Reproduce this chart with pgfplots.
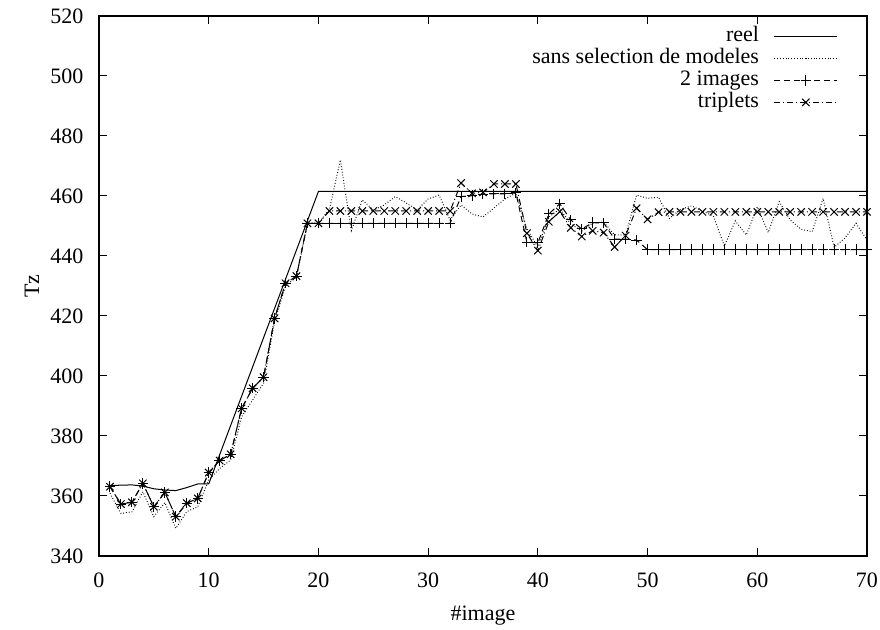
\documentclass[border=0pt]{standalone}
\usepackage{fontspec}
\setmainfont{Liberation Serif}
\usepackage{pgfplots}
\pgfplotsset{compat=1.18}
\begin{document}
\fontsize{11}{13}\selectfont
\begin{tikzpicture}
\useasboundingbox (-49.5pt,-37pt) rectangle (390.5pt,278pt);
\begin{axis}[
  at={(0,0)}, anchor=south west,
  scale only axis, width=384pt, height=270pt,
  xmin=0, xmax=70, ymin=340, ymax=520,
  xtick={0,10,...,70}, ytick={340,360,...,520},
  tick align=inside, major tick length=4pt,
  /pgf/number format/assume math mode=true,
  /pgf/number format/set thousands separator={},
  tick label style={font=\fontsize{11}{13}\selectfont},
  yticklabel style={xshift=-4pt},
  xticklabel style={anchor=base, yshift=-15.6pt},
  xlabel={\#image}, ylabel={Tz},
  xlabel style={at={(axis description cs:0.5,0)}, anchor=base, yshift=-32.5pt, font=\fontsize{11}{13}\selectfont},
  ylabel style={at={(axis description cs:0,0.5)}, anchor=center, yshift=33.5pt, font=\fontsize{11}{13}\selectfont},
  axis line style={line width=0.6pt},
  every tick/.style={black, line width=0.5pt},
  legend style={draw=none, fill=none, at={(rel axis cs:1,1)}, anchor=north east, xshift=-11.5pt, yshift=-2.5pt,
    font=\fontsize{11}{13}\selectfont, nodes={inner sep=0.5pt, text height=7.6pt, text depth=2.4pt}, column sep=7pt},
  legend cell align=right,
  legend plot pos=right,
  legend image code/.code={\draw[mark repeat=2,mark phase=2,#1] plot coordinates {(0cm,0cm) (0.55cm,0cm) (1.1cm,0cm)};},
]
% reel
\addplot[black, line width=0.5pt, mark=none] coordinates {
(1,363.5) (2,363.6) (3,363.7) (4,363.3) (5,362.4) (6,362) (7,361.8) (8,362.8) (9,364) (10,364)
(20,461.5) (70,461.5)};
\addlegendentry{reel}
% sans selection de modeles
\addplot[black, line width=0.5pt, mark=none, dash pattern=on 0.4pt off 1pt] coordinates {
(1,360.9) (2,354.2) (3,354.7) (4,361.4) (5,353.1) (6,357.8) (7,349.2) (8,354.8) (9,356.4) (10,365.3)
(11,369.2) (12,372) (13,386.4) (14,392) (15,397.6) (16,418) (17,430) (18,433) (19,451) (20,451)
(21,455.5) (22,472) (23,448.5) (24,458.7) (25,455.3) (26,457) (27,459.8) (28,457.7) (29,455.3) (30,459)
(31,460.3) (32,452) (33,457) (34,454) (35,453) (36,456) (37,459) (38,461) (39,449) (40,443)
(41,453) (42,455.7) (43,450.7) (44,448.3) (45,451) (46,451.3) (47,447) (48,447) (49,460.3) (50,459.2)
(51,459.6) (52,452.5) (53,455.5) (54,456.7) (55,455) (56,453.3) (57,443.3) (58,451.7) (59,447) (60,456.4)
(61,447.8) (62,458.1) (63,452) (64,448.9) (65,448.1) (66,459.2) (67,442.9) (68,446) (69,450.9) (70,445.3)};
\addlegendentry{sans selection de modeles}
% 2 images
\addplot[black, line width=0.5pt, mark=+, mark size=2.6pt, mark options={solid}, dash pattern=on 3pt off 2pt] coordinates {
(1,363.1) (2,357.3) (3,357.9) (4,364.2) (5,356.4) (6,361.2) (7,353.1) (8,357.6) (9,359.2) (10,367.8)
(11,371.8) (12,373.9) (13,389.2) (14,395.9) (15,399.6) (16,419.2) (17,430.9) (18,433.3) (19,450.9) (20,450.9)
(21,450.9) (22,450.9) (23,450.9) (24,450.9) (25,450.9) (26,450.9) (27,450.9) (28,450.9) (29,450.9) (30,450.9)
(31,450.9) (32,450.9) (33,459.8) (34,460.1) (35,460.6) (36,460.7) (37,460.7) (38,461) (39,444.6) (40,444.4)
(41,454) (42,457.4) (43,452) (44,449) (45,451.1) (46,451) (47,445.6) (48,445.6) (49,445.3) (50,442.1)
(51,442.1) (52,442.1) (53,442.1) (54,442.1) (55,442.1) (56,442.1) (57,442.1) (58,442.1) (59,442.1) (60,442.1)
(61,442.1) (62,442.1) (63,442.1) (64,442.1) (65,442.1) (66,442.1) (67,442.1) (68,442.1) (69,442.1) (70,442.1)};
\addlegendentry{2 images}
% triplets
\addplot[black, line width=0.5pt, mark=x, mark size=2.6pt, mark options={solid}, dash pattern=on 3pt off 1.5pt on 0.5pt off 1.5pt] coordinates {
(1,363.1) (2,357.3) (3,357.9) (4,364.2) (5,356.4) (6,361.2) (7,353.1) (8,357.6) (9,359.2) (10,367.8)
(11,371.8) (12,373.9) (13,389.2) (14,395.9) (15,399.6) (16,419.2) (17,430.9) (18,433.3) (19,450.9) (20,450.9)
(21,455) (22,455) (23,455) (24,455) (25,455) (26,455) (27,455) (28,455) (29,455) (30,455)
(31,455) (32,455) (33,464.3) (34,460.9) (35,461.2) (36,464) (37,464) (38,464) (39,447.6) (40,441.8)
(41,451.4) (42,454.8) (43,449.4) (44,446.5) (45,448.4) (46,447.8) (47,443) (48,446.8) (49,455.9) (50,452.2)
(51,454.6) (52,454.7) (53,454.7) (54,454.7) (55,454.7) (56,454.7) (57,454.7) (58,454.7) (59,454.7) (60,454.7)
(61,454.7) (62,454.7) (63,454.7) (64,454.7) (65,454.7) (66,454.7) (67,454.7) (68,454.7) (69,454.7) (70,454.7)};
\addlegendentry{triplets}
\end{axis}
\end{tikzpicture}
\end{document}
